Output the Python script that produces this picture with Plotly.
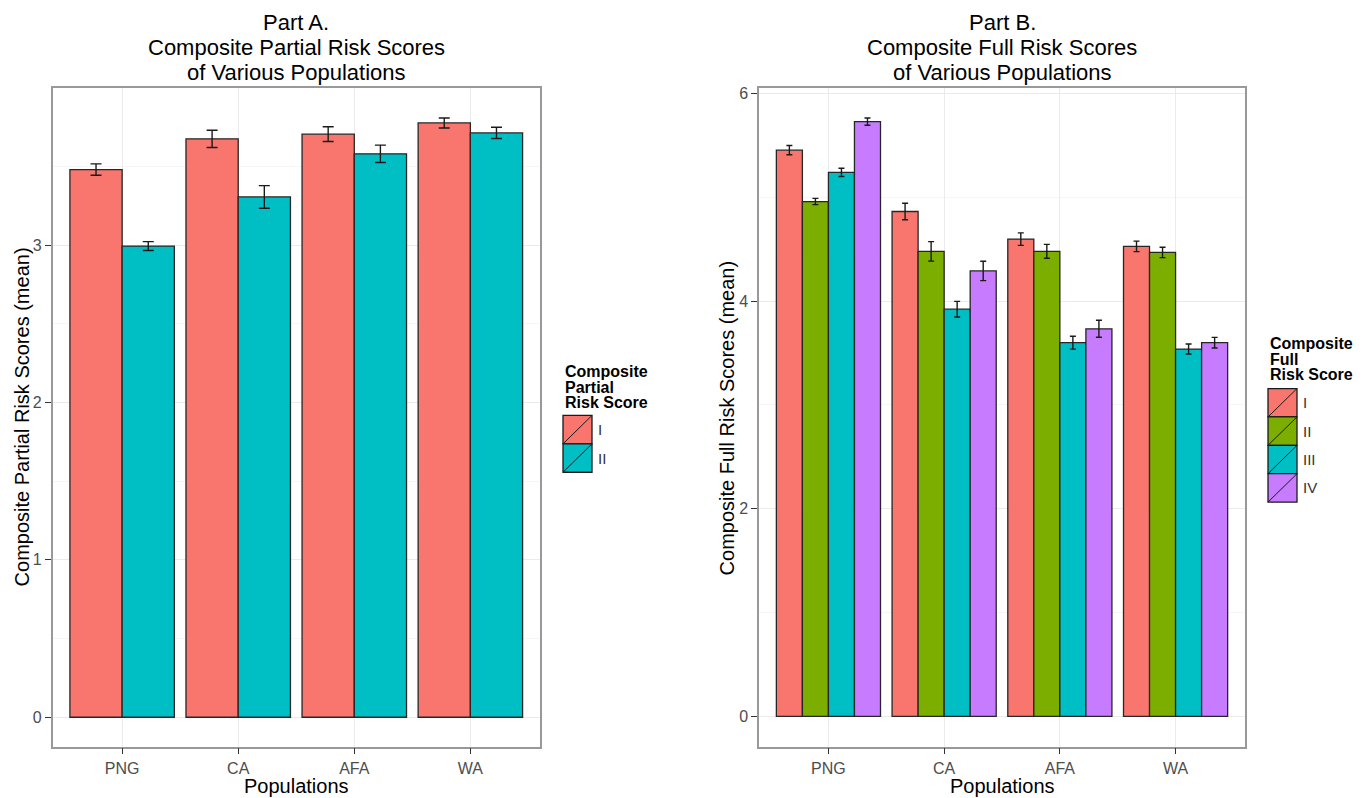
import plotly.graph_objects as go

# ---------------- data ----------------
populations = ["PNG", "CA", "AFA", "WA"]

partial_levels = ["I", "II"]
partial_I = [3.480, 3.675, 3.705, 3.776]
partial_I_err = [0.036, 0.055, 0.047, 0.032]
partial_II = [2.994, 3.306, 3.580, 3.713]
partial_II_err = [0.028, 0.072, 0.055, 0.036]

full_levels = ["I", "II", "III", "IV"]
full_I = [5.454, 4.863, 4.597, 4.527]
full_I_err = [0.045, 0.080, 0.060, 0.051]
full_II = [4.959, 4.479, 4.479, 4.469]
full_II_err = [0.030, 0.094, 0.067, 0.050]
full_III = [5.240, 3.922, 3.599, 3.538]
full_III_err = [0.040, 0.075, 0.062, 0.048]
full_IV = [5.729, 4.290, 3.733, 3.599]
full_IV_err = [0.035, 0.093, 0.082, 0.051]

partial_ticks = [0, 1, 2, 3]
full_ticks = [0, 2, 4, 6]

# ---------------- styling ----------------
W, H = 1366, 798
FONT = "Liberation Sans, Arial, sans-serif"
cols2 = ["#F8766D", "#00BFC4"]
cols4 = ["#F8766D", "#7CAE00", "#00BFC4", "#C77CFF"]


def px(x):
    return x / W


def py(y):
    return 1 - y / H


fig = go.Figure()

partial_vals = [partial_I, partial_II]
partial_errs = [partial_I_err, partial_II_err]
for lvl, vals, errs, c in zip(partial_levels, partial_vals, partial_errs, cols2):
    fig.add_trace(go.Bar(
        x=populations, y=vals, name=lvl, xaxis="x", yaxis="y",
        marker=dict(color=c, line=dict(color="#262626", width=1.3)),
        error_y=dict(type="data", array=errs, color="#1a1a1a", thickness=1.4, width=5.5),
        showlegend=False,
    ))

full_vals = [full_I, full_II, full_III, full_IV]
full_errs = [full_I_err, full_II_err, full_III_err, full_IV_err]
for lvl, vals, errs, c in zip(full_levels, full_vals, full_errs, cols4):
    fig.add_trace(go.Bar(
        x=populations, y=vals, name=lvl, xaxis="x2", yaxis="y2",
        marker=dict(color=c, line=dict(color="#262626", width=1.3)),
        error_y=dict(type="data", array=errs, color="#1a1a1a", thickness=1.4, width=3),
        showlegend=False,
    ))

axis_common = dict(
    showline=True, mirror=True, linecolor="#999999", linewidth=1.5,
    ticks="outside", ticklen=6, tickwidth=1.3, tickcolor="#333333",
    tickfont=dict(family=FONT, size=16, color="#4D4D4D"),
    showgrid=True, gridcolor="#EBEBEB", gridwidth=1, zeroline=False,
)

xA0, xA1, xB0, xB1 = 52.5, 540, 759, 1245
yTop, yBot = 85.5, 746.5

fig.update_layout(
    width=W, height=H, margin=dict(l=0, r=0, t=0, b=0),
    paper_bgcolor="white", plot_bgcolor="white",
    barmode="group", bargap=0.1, bargroupgap=0,
    showlegend=False,
    font=dict(family=FONT),
    xaxis=dict(domain=[px(xA0), px(xA1)], range=[-0.6, 3.6], type="category",
               categoryorder="array", categoryarray=populations, **axis_common),
    yaxis=dict(domain=[py(yBot), py(yTop)], range=[-0.187, 3.997], anchor="x",
               tickvals=partial_ticks,
               minor=dict(dtick=0.5, tick0=0, showgrid=True, gridcolor="#F6F6F6", ticks=""),
               **axis_common),
    xaxis2=dict(domain=[px(xB0), px(xB1)], range=[-0.6, 3.6], type="category",
                categoryorder="array", categoryarray=populations, anchor="y2",
                **axis_common),
    yaxis2=dict(domain=[py(yBot), py(yTop)], range=[-0.293, 6.051], anchor="x2",
                tickvals=full_ticks,
                minor=dict(dtick=1, tick0=0, showgrid=True, gridcolor="#F6F6F6", ticks=""),
                **axis_common),
)

ann = []
shapes = []

# titles
titleA = ["Part A.", "Composite Partial Risk Scores", "of Various Populations"]
titleB = ["Part B.", "Composite Full Risk Scores", "of Various Populations"]
for lines, cx in ((titleA, (xA0 + xA1) / 2), (titleB, (xB0 + xB1) / 2)):
    for i, t in enumerate(lines):
        ann.append(dict(text=t, x=px(cx), y=py(20 + 25 * i), xref="paper", yref="paper",
                        xanchor="center", yanchor="middle", showarrow=False,
                        font=dict(family=FONT, size=22, color="black")))

# axis titles
for cx in ((xA0 + xA1) / 2, (xB0 + xB1) / 2):
    ann.append(dict(text="Populations", x=px(cx), y=py(786), xref="paper", yref="paper",
                    xanchor="center", yanchor="middle", showarrow=False,
                    font=dict(family=FONT, size=20, color="black")))
ann.append(dict(text="Composite Partial Risk Scores (mean)", x=px(22), y=py(416),
                xref="paper", yref="paper", xanchor="center", yanchor="middle",
                textangle=-90, showarrow=False, font=dict(family=FONT, size=20, color="black")))
ann.append(dict(text="Composite Full Risk Scores (mean)", x=px(727), y=py(416),
                xref="paper", yref="paper", xanchor="center", yanchor="middle",
                textangle=-90, showarrow=False, font=dict(family=FONT, size=20, color="black")))


def draw_legend(title_lines, levels, colors, x0, title_y0, key_y0, key_w=29, key_h=28.5):
    for i, t in enumerate(title_lines):
        ann.append(dict(text="<b>%s</b>" % t, x=px(x0), y=py(title_y0 + 15.5 * i),
                        xref="paper", yref="paper", xanchor="left", yanchor="middle",
                        showarrow=False, font=dict(family=FONT, size=16, color="black")))
    for i, (lvl, c) in enumerate(zip(levels, colors)):
        ya = key_y0 + key_h * i
        yb = ya + key_h
        shapes.append(dict(type="rect", xref="paper", yref="paper",
                           x0=px(x0), x1=px(x0 + key_w), y0=py(yb), y1=py(ya),
                           fillcolor=c, line=dict(color="#1a1a1a", width=1.3)))
        shapes.append(dict(type="line", xref="paper", yref="paper",
                           x0=px(x0), x1=px(x0 + key_w), y0=py(yb), y1=py(ya),
                           line=dict(color="#1a1a1a", width=1)))
        ann.append(dict(text=lvl, x=px(x0 + key_w + 4), y=py((ya + yb) / 2),
                        xref="paper", yref="paper", xanchor="left", yanchor="middle",
                        showarrow=False, font=dict(family=FONT, size=15, color="#333333")))


draw_legend(["Composite", "Partial", "Risk Score"], partial_levels, cols2, 563, 370, 414)
draw_legend(["Composite", "Full", "Risk Score"], full_levels, cols4, 1268, 342, 387)

fig.update_layout(annotations=ann, shapes=shapes)

fig.write_html("out.html", config={"displayModeBar": False},
               post_script="document.body.style.margin='0';document.body.style.overflow='hidden';")
